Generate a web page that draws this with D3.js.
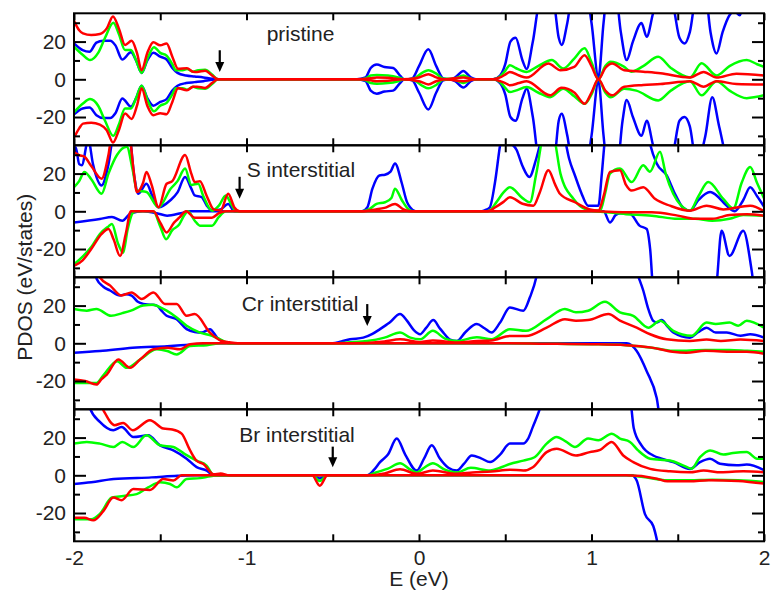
<!DOCTYPE html>
<html>
<head>
<meta charset="utf-8">
<script src="https://cdn.jsdelivr.net/npm/d3@7"></script>
<style>
  body { margin: 0; background: #fff; }
  svg text { font-family: "Liberation Sans", Arial, sans-serif; }
</style>
</head>
<body>
<div id="chart"></div>
<script>
// panel titles and arrow markers (E position, arrow top, arrow tip in states)
var panelNames = ["pristine", "S interstitial", "Cr interstitial", "Br interstitial"];
var arrowE = [-1.155, -1.04, -0.30, -0.50];
var arrowTop = [15.4, 18.3, 20.8, 15.2];
var arrowTip = [3.9, 6.7, 9.2, 4.3];
var labelE = [-0.883, -0.999, -1.028, -1.042];
var labelV = [20.1, 18.4, 17.1, 17.5];

var xTicks = [-2, -1.5, -1, -0.5, 0, 0.5, 1, 1.5, 2];
var yMajor = [-20, 0, 20];
var yMinor = [-30, -10, 10, 30];

// ---- pristine ----
var pBlueUp = [[-2.0,19],[-1.95,15.5],[-1.91,14.6],[-1.87,19.5],[-1.83,20.5],[-1.79,20.5],[-1.76,18],[-1.72,10.5],[-1.67,14.3],[-1.64,10],[-1.608,3.4],[-1.575,10],[-1.54,14.1],[-1.50,12],[-1.463,10.5],[-1.43,6],[-1.40,3.4],[-1.35,2],[-1.30,1.5],[-1.25,1],[-1.2,0.3],[-1.16,0],[-0.36,0],[-0.31,1],[-0.28,6],[-0.245,7.8],[-0.2,6.5],[-0.15,6],[-0.11,2],[-0.085,0],[-0.04,0.5],[0.0,7],[0.054,15.9],[0.1,7],[0.141,0.5],[0.18,0],[0.21,1],[0.257,4.4],[0.30,1],[0.33,0],[0.43,0],[0.47,2],[0.50,8],[0.53,20],[0.56,22],[0.60,10],[0.624,5.5],[0.66,20],[0.70,40],[0.78,40],[0.81,22],[0.827,18.2],[0.86,30],[0.89,45],[0.97,45],[1.0,30],[1.04,1],[1.07,30],[1.09,45],[1.14,45],[1.17,25],[1.204,10.2],[1.24,20],[1.29,29.8],[1.32,22.6],[1.36,36],[1.42,45],[1.47,40],[1.51,22],[1.54,19],[1.57,25],[1.61,45],[1.66,45],[1.69,25],[1.725,13.7],[1.76,25],[1.80,34],[1.83,36],[1.86,34],[1.90,45],[2.0,45]];
var pBlueDn = [[-2.0,-18.6],[-1.95,-15.5],[-1.91,-15],[-1.87,-19],[-1.83,-20.5],[-1.79,-20.5],[-1.76,-18],[-1.72,-10.2],[-1.67,-14.5],[-1.64,-10],[-1.608,-3.4],[-1.575,-10],[-1.54,-14],[-1.50,-12],[-1.463,-10.5],[-1.43,-6],[-1.40,-3.4],[-1.35,-2],[-1.30,-1.5],[-1.25,-1],[-1.2,-0.3],[-1.16,0],[-0.36,0],[-0.31,-1],[-0.28,-6],[-0.245,-7.6],[-0.2,-6.5],[-0.15,-6],[-0.11,-2],[-0.085,0],[-0.04,-0.5],[0.0,-7],[0.054,-16],[0.1,-7],[0.141,-0.5],[0.18,0],[0.21,-1],[0.257,-4.4],[0.30,-1],[0.33,0],[0.43,0],[0.47,-2],[0.50,-8],[0.53,-20],[0.56,-22],[0.60,-10],[0.624,-5],[0.66,-20],[0.70,-45],[0.78,-45],[0.81,-22],[0.827,-18.3],[0.86,-30],[0.89,-45],[0.97,-45],[1.0,-30],[1.04,-1],[1.07,-30],[1.09,-45],[1.15,-45],[1.18,-22],[1.204,-11],[1.24,-20],[1.29,-30],[1.32,-22],[1.36,-36],[1.42,-45],[1.47,-40],[1.51,-22],[1.54,-20],[1.57,-25],[1.61,-45],[1.66,-30],[1.70,-9.5],[1.74,-25],[1.80,-45],[2.0,-45]];
var pGreenUp = [[-2.0,17.3],[-1.95,13],[-1.907,10.2],[-1.86,14],[-1.82,22],[-1.772,30],[-1.74,24],[-1.704,15.5],[-1.67,15.5],[-1.64,10],[-1.608,3.4],[-1.57,12],[-1.536,17],[-1.50,14],[-1.463,12.5],[-1.43,8],[-1.41,4.8],[-1.37,4.8],[-1.345,5.5],[-1.31,4],[-1.28,4.8],[-1.24,5],[-1.20,2.5],[-1.165,0],[-0.36,0],[-0.31,0.5],[-0.28,2],[-0.245,2.3],[-0.18,2],[-0.12,1],[-0.085,0],[-0.03,0.5],[0.02,3.5],[0.054,4.8],[0.1,3],[0.14,0.3],[0.2,0.3],[0.257,2],[0.30,0.3],[0.33,0],[0.43,0],[0.47,1.5],[0.50,4.5],[0.527,7.5],[0.56,6],[0.624,3.9],[0.69,7],[0.77,10.2],[0.836,5.7],[0.90,11],[0.96,16.4],[1.00,9],[1.04,0],[1.08,7],[1.11,9.3],[1.19,6.6],[1.23,4],[1.30,7],[1.387,11.9],[1.46,6],[1.571,1],[1.638,8.5],[1.725,2],[1.80,7],[1.90,10.2],[1.96,8],[2.0,6.6]];
var pGreenDn = [[-2.0,-17.5],[-1.95,-13],[-1.907,-10.5],[-1.86,-14],[-1.82,-22],[-1.772,-30],[-1.74,-24],[-1.704,-15.5],[-1.67,-15.5],[-1.64,-10],[-1.608,-3.4],[-1.57,-12],[-1.536,-17],[-1.50,-14],[-1.463,-12.5],[-1.43,-8],[-1.41,-4.8],[-1.37,-4.8],[-1.345,-5.5],[-1.31,-4],[-1.28,-4.8],[-1.24,-5],[-1.20,-2.5],[-1.165,0],[-0.36,0],[-0.31,-0.5],[-0.28,-2],[-0.245,-2.3],[-0.18,-2],[-0.12,-1],[-0.085,0],[-0.03,-0.5],[0.02,-3.5],[0.054,-4.8],[0.1,-3],[0.14,-0.3],[0.2,-0.3],[0.257,-2],[0.30,-0.3],[0.33,0],[0.43,0],[0.47,-1.5],[0.50,-4.5],[0.527,-6.8],[0.56,-6],[0.624,-4.1],[0.69,-7],[0.76,-9.5],[0.836,-5],[0.90,-9],[0.96,-13],[1.00,-8],[1.04,0],[1.08,-7],[1.11,-9.5],[1.19,-5],[1.26,-6],[1.387,-11.2],[1.46,-6],[1.571,-1],[1.638,-8.5],[1.725,-1],[1.80,-6],[1.90,-10],[2.0,-8.5]];
var pRedUp = [[-2.0,31],[-1.97,26],[-1.948,24.4],[-1.90,23.5],[-1.85,24],[-1.81,27],[-1.774,33.3],[-1.74,27],[-1.704,18.2],[-1.666,20.4],[-1.635,14],[-1.608,4.8],[-1.575,14],[-1.54,19.6],[-1.50,18],[-1.463,19],[-1.43,12],[-1.397,5.6],[-1.345,5.8],[-1.31,4],[-1.287,3.9],[-1.24,4.6],[-1.20,2],[-1.165,0],[-0.36,0],[-0.28,0.5],[-0.245,1],[-0.18,0.8],[-0.1,0],[0.0,1],[0.054,2.7],[0.1,1],[0.15,0],[0.257,1],[0.33,0],[0.43,0],[0.47,1],[0.50,2.5],[0.527,3.9],[0.58,2],[0.624,0.9],[0.75,8.4],[0.82,4.8],[0.90,6.6],[0.96,12.8],[1.00,7],[1.04,0],[1.08,6],[1.12,8.4],[1.19,4.8],[1.30,4],[1.40,3.2],[1.571,1],[1.65,3.9],[1.725,0.9],[1.84,3],[2.0,2]];
var pRedDn = [[-2.0,-31],[-1.97,-26],[-1.948,-23.5],[-1.90,-23],[-1.85,-24],[-1.81,-27],[-1.774,-33.5],[-1.74,-27],[-1.704,-18.2],[-1.666,-21],[-1.635,-14],[-1.608,-4.8],[-1.575,-14],[-1.54,-19],[-1.50,-18],[-1.463,-18.5],[-1.43,-12],[-1.397,-4.8],[-1.345,-5.8],[-1.31,-4],[-1.287,-3.9],[-1.24,-4.6],[-1.20,-2],[-1.165,0],[-0.36,0],[-0.28,-0.5],[-0.245,-1],[-0.18,-0.8],[-0.1,0],[0.0,-1],[0.054,-2.7],[0.1,-1],[0.15,0],[0.257,-1],[0.33,0],[0.43,0],[0.47,-1],[0.50,-2],[0.527,-3.2],[0.58,-2],[0.624,-1],[0.76,-8.5],[0.826,-4.5],[0.90,-7],[0.96,-13],[1.00,-7],[1.04,0],[1.08,-6],[1.12,-8.5],[1.19,-4],[1.30,-3],[1.40,-2.5],[1.571,-1],[1.65,-3.9],[1.725,-1],[1.84,-2.5],[2.0,-2.8]];

// ---- S interstitial ----
var sBlueUp = [[-2.0,30],[-1.99,34],[-1.97,25],[-1.955,24.4],[-1.917,38],[-1.89,25],[-1.84,13.7],[-1.80,25],[-1.77,40],[-1.68,40],[-1.65,18],[-1.627,9.3],[-1.58,14.6],[-1.545,8],[-1.51,2.1],[-1.443,5.7],[-1.40,10],[-1.356,18.2],[-1.32,12],[-1.30,8.4],[-1.26,7.5],[-1.23,3],[-1.20,0.4],[-1.15,1],[-1.106,3.9],[-1.07,0],[-0.33,0],[-0.30,2],[-0.27,12],[-0.23,19],[-0.197,19.4],[-0.165,21],[-0.139,25.3],[-0.10,15],[-0.07,5],[-0.052,2.1],[-0.02,0],[0.354,0],[0.38,0.5],[0.41,2],[0.44,15],[0.47,35],[0.49,45],[0.52,38],[0.566,32.5],[0.60,24],[0.64,18.2],[0.68,28],[0.71,38],[0.75,45],[0.82,45],[0.846,38],[0.87,28],[0.904,19],[0.94,10],[0.98,3],[1.04,3],[1.06,20],[1.078,38],[1.10,45],[1.32,45],[1.339,36],[1.378,25.3],[1.436,19],[1.48,10],[1.53,2],[1.57,0.3],[1.62,6],[1.687,10.2],[1.73,8],[1.764,4.8],[1.83,0],[1.88,6],[1.92,12.8],[1.96,8],[2.0,2.5]];
var sBlueDn = [[-2.0,-5.9],[-1.85,-4.1],[-1.78,-3],[-1.72,-5],[-1.67,-1],[-1.60,0],[-1.52,-1],[-1.46,-2.3],[-1.38,-1],[-1.33,0],[1.07,0],[1.107,-5.9],[1.14,-2],[1.165,-1],[1.22,-1],[1.278,-7.6],[1.32,-9.4],[1.34,-20],[1.358,-40],[1.72,-40],[1.754,-10.3],[1.80,-23.7],[1.88,-10.3],[1.929,-31.7],[1.95,-45],[2.0,-45]];
var sGreenUp = [[-2.0,12.8],[-1.97,16],[-1.94,20.9],[-1.90,17],[-1.84,9.3],[-1.80,20],[-1.75,30],[-1.694,34.2],[-1.66,22],[-1.635,11],[-1.58,10.2],[-1.51,2.1],[-1.44,12],[-1.40,16],[-1.356,22.7],[-1.32,14],[-1.28,14.6],[-1.25,8],[-1.20,0.3],[-1.16,3],[-1.12,8.4],[-1.09,4],[-1.06,0],[-0.33,0],[-0.29,1],[-0.246,3.9],[-0.197,4.8],[-0.16,7],[-0.139,12],[-0.10,6],[-0.06,1],[-0.03,0],[0.38,0],[0.41,0.5],[0.45,5],[0.49,10],[0.527,12.8],[0.60,7],[0.643,4.8],[0.68,20],[0.72,38],[0.78,38],[0.82,20],[0.895,6.6],[0.97,1],[1.05,0.3],[1.08,10],[1.107,20],[1.165,22.7],[1.233,15.5],[1.30,24.4],[1.339,21],[1.397,31.6],[1.43,20],[1.474,9.3],[1.52,3],[1.57,0.3],[1.62,8],[1.677,15.5],[1.764,6.6],[1.822,1.5],[1.87,15],[1.92,23.5],[1.96,15],[2.0,7]];
var sGreenDn = [[-2.0,-28.1],[-1.95,-24],[-1.90,-19],[-1.85,-12],[-1.80,-8],[-1.78,-6.7],[-1.745,-17],[-1.715,-22],[-1.69,-10],[-1.66,-1],[-1.64,0],[-1.54,0],[-1.50,-8],[-1.466,-14.8],[-1.43,-10],[-1.39,-7],[-1.36,-2],[-1.34,0],[-1.30,-5],[-1.27,-7.6],[-1.20,-7.6],[-1.16,-3],[-1.12,0],[1.0,0],[1.2,-1.5],[1.35,-2.3],[1.50,-4],[1.60,-4],[1.70,-5],[1.80,-4],[1.88,-2],[2.0,-2.3]];
var sRedUp = [[-2.0,31.5],[-1.97,29.8],[-1.94,29],[-1.90,24],[-1.84,17.3],[-1.80,30],[-1.78,40],[-1.68,40],[-1.655,22],[-1.635,10.2],[-1.60,15],[-1.58,20.9],[-1.55,14],[-1.51,2.1],[-1.463,14.6],[-1.43,16],[-1.356,29.8],[-1.32,20],[-1.30,15.5],[-1.27,16],[-1.23,8],[-1.19,1],[-1.15,0.5],[-1.106,9.3],[-1.07,2],[-1.04,0],[-0.33,0],[-0.25,1],[-0.20,1.8],[-0.139,3.9],[-0.09,1],[-0.05,0],[0.40,0],[0.44,2],[0.49,5],[0.527,7.5],[0.60,4],[0.663,3],[0.70,10],[0.75,21.8],[0.79,14],[0.817,9.3],[0.904,4.8],[0.99,1],[1.04,0.4],[1.07,8],[1.107,20.9],[1.165,21.8],[1.20,14],[1.233,11],[1.30,12.8],[1.368,6.6],[1.455,3],[1.57,0.3],[1.667,3],[1.764,1],[1.92,3],[2.0,0]];
var sRedDn = [[-2.0,-29],[-1.95,-26],[-1.90,-20],[-1.84,-12],[-1.80,-9.4],[-1.77,-15],[-1.733,-23.7],[-1.70,-12],[-1.67,0],[-1.54,0],[-1.50,-6],[-1.463,-11.2],[-1.42,-6],[-1.39,-3.4],[-1.35,0],[-1.30,-3.4],[-1.20,-3.4],[-1.16,-1],[-1.12,0],[1.0,0],[1.2,-0.5],[1.35,-0.5],[1.50,-2.3],[1.60,-4],[1.70,-4],[1.80,-2],[1.90,-1.5],[2.0,-2.3]];

// ---- Cr interstitial ----
var cBlueUp = [[-2.0,45],[-1.88,40],[-1.869,34.2],[-1.83,30],[-1.791,28],[-1.733,25.3],[-1.70,26],[-1.666,25.3],[-1.63,22],[-1.598,20.9],[-1.56,20.5],[-1.52,20],[-1.49,17],[-1.463,14.6],[-1.405,12.8],[-1.347,7.5],[-1.30,6],[-1.26,5.7],[-1.212,7.5],[-1.17,3],[-1.144,1.2],[-1.10,0],[-0.50,0],[-0.45,1],[-0.40,2.1],[-0.323,3],[-0.27,5],[-0.226,7.5],[-0.17,11],[-0.11,15.5],[-0.07,12],[-0.03,7],[0.006,4.8],[0.04,8],[0.083,12.3],[0.12,8],[0.141,5.7],[0.18,2],[0.219,1.2],[0.27,6],[0.335,10.2],[0.38,8],[0.42,5.7],[0.47,11],[0.527,19],[0.605,17.3],[0.643,24.4],[0.68,35],[0.70,45],[1.24,45],[1.262,38],[1.30,28],[1.33,18],[1.358,11.9],[1.38,11],[1.407,12.3],[1.44,9],[1.474,5.7],[1.571,3],[1.62,6],[1.667,8.3],[1.72,5.7],[1.784,5.7],[1.864,4],[1.92,4.8],[2.0,3]];
var cBlueDn = [[-2.0,-5],[-1.85,-4.1],[-1.66,-2.3],[-1.46,-1.5],[-1.30,-0.6],[-1.15,0],[1.204,0],[1.262,-4.1],[1.32,-14.8],[1.378,-29],[1.40,-40],[2.0,-45]];
var cGreenUp = [[-2.0,18.2],[-1.926,17.3],[-1.87,18.2],[-1.785,14.6],[-1.72,16],[-1.67,17.3],[-1.60,20],[-1.54,20.5],[-1.50,19],[-1.463,17.3],[-1.405,13.7],[-1.347,9.3],[-1.27,5.7],[-1.20,4],[-1.15,2],[-1.10,0],[-0.50,0],[-0.40,0.5],[-0.30,1.2],[-0.20,3],[-0.11,5.7],[-0.05,3],[0.006,2.1],[0.08,6.6],[0.15,2.5],[0.22,1.2],[0.335,3.2],[0.42,2.1],[0.527,7.5],[0.62,6.6],[0.74,12.8],[0.846,18.2],[0.91,16.4],[0.98,17.3],[1.078,22],[1.165,16.4],[1.242,14.6],[1.33,8.3],[1.397,11.9],[1.474,6.6],[1.58,4],[1.667,11],[1.72,10.2],[1.80,11],[1.85,9.3],[1.90,12],[2.0,8.3]];
var cGreenDn = [[-2.0,-21],[-1.87,-21],[-1.83,-17],[-1.75,-9.5],[-1.694,-13],[-1.617,-8.6],[-1.52,-3.2],[-1.46,-4.1],[-1.405,-5.9],[-1.327,-1.5],[-1.23,-1],[-1.15,0],[0.5,0],[0.8,-0.3],[1.0,-0.5],[1.2,-1],[1.35,-2.3],[1.47,-4],[1.55,-4],[1.66,-3.5],[1.80,-3.5],[1.90,-4],[2.0,-4.5]];
var cRedUp = [[-2.0,45],[-1.87,40],[-1.85,35],[-1.79,30.6],[-1.725,25.3],[-1.666,27],[-1.608,23.5],[-1.54,27],[-1.472,20.9],[-1.405,20.9],[-1.347,14.6],[-1.30,15.5],[-1.212,5.7],[-1.144,1.2],[-1.10,0.5],[-1.05,0],[-0.40,0],[-0.20,1],[-0.11,2.1],[0.006,0.6],[0.08,1.5],[0.22,0.4],[0.335,1.2],[0.42,1.5],[0.527,3.9],[0.62,3.9],[0.74,8.3],[0.846,12.8],[0.91,12],[0.98,12.3],[1.098,15.5],[1.165,12],[1.262,8.3],[1.34,4.8],[1.436,2.1],[1.57,1.2],[1.667,2],[1.75,1.2],[1.864,2],[2.0,1.2]];
var cRedDn = [[-2.0,-19.2],[-1.936,-20],[-1.87,-21.9],[-1.84,-19],[-1.81,-16.6],[-1.743,-8.6],[-1.675,-13],[-1.617,-8.6],[-1.54,-3.2],[-1.46,-2.3],[-1.385,-3.2],[-1.327,-0.5],[-1.25,0],[0.5,0],[0.8,-0.3],[1.0,-0.5],[1.2,-1],[1.35,-2.3],[1.47,-4.5],[1.55,-5],[1.66,-4],[1.80,-4.5],[1.90,-4.5],[2.0,-5.5]];

// ---- Br interstitial ----
var bBlueUp = [[-2.0,45],[-1.92,40],[-1.907,35.5],[-1.85,28.3],[-1.772,23.9],[-1.724,25.6],[-1.656,20.3],[-1.57,21.2],[-1.501,15.9],[-1.424,13.2],[-1.347,8.8],[-1.289,4.3],[-1.23,2.5],[-1.19,0],[-0.30,0],[-0.26,3],[-0.226,7],[-0.18,11],[-0.129,19.5],[-0.08,11],[-0.013,2.5],[0.03,9],[0.074,15.9],[0.12,9],[0.17,4],[0.219,2.5],[0.26,6],[0.306,10.5],[0.36,9],[0.412,7],[0.47,11],[0.527,16.8],[0.605,16.8],[0.63,19],[0.66,25.7],[0.71,38],[0.73,45],[1.20,45],[1.225,40],[1.245,25],[1.29,15.9],[1.358,10.5],[1.407,8.8],[1.474,7],[1.571,3.4],[1.629,7],[1.687,8.8],[1.745,6.1],[1.842,5.3],[1.90,5.7],[2.0,2.8]];
var bBlueDn = [[-2.0,-4.6],[-1.90,-3.7],[-1.77,-2],[-1.55,-1.1],[-1.40,-0.3],[-1.3,0],[-0.62,0],[-0.575,-1.7],[-0.53,0],[1.233,0],[1.262,-2.8],[1.31,-20.6],[1.358,-26.9],[1.387,-38],[1.40,-45],[2.0,-45]];
var bGreenUp = [[-2.0,16.8],[-1.926,17.7],[-1.85,16.8],[-1.772,15],[-1.72,17.7],[-1.656,15],[-1.58,21.2],[-1.501,15.9],[-1.424,15],[-1.36,11.4],[-1.289,7.8],[-1.23,5],[-1.19,0],[-0.30,0],[-0.25,1.5],[-0.18,3.5],[-0.11,6.4],[-0.05,3],[-0.013,1.5],[0.03,4],[0.08,6.4],[0.15,3],[0.22,1.5],[0.30,4],[0.412,2.5],[0.47,4],[0.527,6],[0.605,7.8],[0.67,9.6],[0.74,16.8],[0.798,20.3],[0.85,18],[0.904,15],[0.98,19.5],[1.04,18.6],[1.117,22.1],[1.165,19.5],[1.223,17.7],[1.27,13.2],[1.34,8.8],[1.455,7.8],[1.53,5.3],[1.58,3.5],[1.629,9.6],[1.687,13.2],[1.764,11],[1.82,11.8],[1.90,12.3],[1.96,8.8],[2.0,8.8]];
var bGreenDn = [[-2.0,-23.3],[-1.90,-23.3],[-1.85,-20.5],[-1.78,-11.8],[-1.714,-11],[-1.637,-10],[-1.57,-6.4],[-1.50,-3.7],[-1.443,-4.6],[-1.405,-6.4],[-1.347,-2],[-1.27,-1.5],[-1.21,-0.5],[-1.15,0],[-0.62,0],[-0.575,-3],[-0.53,0],[1.2,0],[1.30,-0.9],[1.44,-2.6],[1.57,-2.6],[1.70,-2.3],[1.85,-2.6],[2.0,-3.5]];
var bRedUp = [[-2.0,45],[-1.86,40],[-1.83,34.6],[-1.764,26.6],[-1.715,27.8],[-1.66,23.9],[-1.56,29.2],[-1.482,24.8],[-1.43,24.3],[-1.376,22.1],[-1.327,13.2],[-1.29,7.8],[-1.25,6],[-1.19,0.5],[-1.15,1],[-1.10,0],[-0.30,0],[-0.20,1],[-0.11,3.2],[-0.013,0.8],[0.08,2.5],[0.219,0.8],[0.31,1.5],[0.42,2],[0.527,3],[0.605,2.5],[0.66,4.3],[0.74,12.3],[0.798,14.1],[0.91,10.5],[0.99,12.3],[1.05,13.5],[1.117,17.7],[1.184,10.5],[1.242,7],[1.34,3.4],[1.455,2.1],[1.57,1.6],[1.65,2.5],[1.75,1.6],[1.88,2.1],[2.0,1.6]];
var bRedDn = [[-2.0,-22.5],[-1.94,-22.5],[-1.888,-23.9],[-1.83,-19],[-1.772,-11.8],[-1.724,-13.2],[-1.656,-7.3],[-1.56,-7.8],[-1.482,-2],[-1.424,-2.8],[-1.376,0],[-0.62,0],[-0.575,-5.5],[-0.53,0],[1.2,0],[1.38,-1.8],[1.44,-3.2],[1.57,-3.2],[1.68,-2.6],[1.85,-3],[2.0,-4.4]];

var colors = { blue: "#0000ff", green: "#00ff00", red: "#ff0000" };

var panels = [
  { curves: [[pBlueUp, "blue"], [pBlueDn, "blue"], [pGreenUp, "green"], [pGreenDn, "green"], [pRedUp, "red"], [pRedDn, "red"]] },
  { curves: [[sBlueUp, "blue"], [sBlueDn, "blue"], [sGreenUp, "green"], [sGreenDn, "green"], [sRedUp, "red"], [sRedDn, "red"]] },
  { curves: [[cBlueUp, "blue"], [cBlueDn, "blue"], [cGreenUp, "green"], [cGreenDn, "green"], [cRedUp, "red"], [cRedDn, "red"]] },
  { curves: [[bBlueUp, "blue"], [bBlueDn, "blue"], [bGreenUp, "green"], [bGreenDn, "green"], [bRedUp, "red"], [bRedDn, "red"]] }
];

var width = 774, height = 593;
var left = 74, right = 764, top0 = 13.3, panelH = 132;

var svg = d3.select("#chart").append("svg")
    .attr("width", width)
    .attr("height", height);

var x = d3.scaleLinear().domain([-2, 2]).range([left, right]);

panels.forEach(function (p, i) {
  var top = top0 + i * panelH;
  var y = d3.scaleLinear().domain([-35, 35]).range([top + panelH, top]);

  svg.append("clipPath").attr("id", "clip" + i)
    .append("rect")
    .attr("x", left).attr("y", top)
    .attr("width", right - left).attr("height", panelH);

  var line = d3.line()
      .x(function (d) { return x(d[0]); })
      .y(function (d) { return y(d[1]); })
      .curve(d3.curveMonotoneX);

  var g = svg.append("g").attr("clip-path", "url(#clip" + i + ")");
  g.selectAll("path")
    .data(p.curves)
    .enter()
    .append("path")
    .attr("d", function (d) { return line(d[0]); })
    .attr("fill", "none")
    .attr("stroke", function (d) { return colors[d[1]]; })
    .attr("stroke-width", 2.5)
    .attr("stroke-linejoin", "round");

  // ticks, all pointing inward
  var axes = svg.append("g").attr("class", "axes");
  axes.append("g").attr("transform", "translate(0," + top + ")")
    .call(d3.axisTop(x).tickValues(xTicks).tickSize(-7).tickFormat(""));
  axes.append("g").attr("transform", "translate(0," + (top + panelH) + ")")
    .call(d3.axisBottom(x).tickValues(xTicks).tickSize(-7).tickPadding(9)
      .tickFormat(function (d) { return (i === 3 && Number.isInteger(d)) ? String(d) : ""; }));
  axes.append("g").attr("transform", "translate(" + left + ",0)")
    .call(d3.axisLeft(y).tickValues(yMajor).tickSize(-12).tickPadding(8)
      .tickFormat(function (d) { return String(d); }));
  axes.append("g").attr("transform", "translate(" + left + ",0)")
    .call(d3.axisLeft(y).tickValues(yMinor).tickSize(-6).tickFormat(""));
  axes.append("g").attr("transform", "translate(" + right + ",0)")
    .call(d3.axisRight(y).tickValues(yMajor).tickSize(-12).tickFormat(""));
  axes.append("g").attr("transform", "translate(" + right + ",0)")
    .call(d3.axisRight(y).tickValues(yMinor).tickSize(-6).tickFormat(""));

  svg.append("rect")
    .attr("x", left).attr("y", top)
    .attr("width", right - left).attr("height", panelH)
    .attr("fill", "none").attr("stroke", "#000").attr("stroke-width", 2);

  // panel label
  svg.append("text")
    .attr("x", x(labelE[i])).attr("y", y(labelV[i]))
    .attr("font-size", "21px").attr("fill", "#222")
    .text(panelNames[i]);

  // arrow
  var ax = x(arrowE[i]), y1 = y(arrowTop[i]), y2 = y(arrowTip[i]);
  svg.append("line")
    .attr("x1", ax).attr("x2", ax).attr("y1", y1).attr("y2", y2 - 8)
    .attr("stroke", "#000").attr("stroke-width", 2.2);
  svg.append("path")
    .attr("d", "M" + (ax - 4.5) + "," + (y2 - 10) + "L" + (ax + 4.5) + "," + (y2 - 10) + "L" + ax + "," + y2 + "Z")
    .attr("fill", "#000");
});

svg.selectAll(".axes .domain").remove();
svg.selectAll(".axes .tick line").attr("stroke", "#000").attr("stroke-width", 2);
svg.selectAll(".axes .tick text")
  .attr("font-size", "21px")
  .attr("font-family", "Liberation Sans, Arial, sans-serif")
  .attr("fill", "#222");

// axis titles
svg.append("text")
  .attr("x", (left + right) / 2).attr("y", 586)
  .attr("text-anchor", "middle")
  .attr("font-size", "21px").attr("fill", "#222")
  .text("E (eV)");

svg.append("text")
  .attr("transform", "translate(32," + (top0 + 2 * panelH) + ") rotate(-90)")
  .attr("text-anchor", "middle")
  .attr("font-size", "21px").attr("fill", "#222")
  .text("PDOS (eV/states)");
</script>
</body>
</html>
